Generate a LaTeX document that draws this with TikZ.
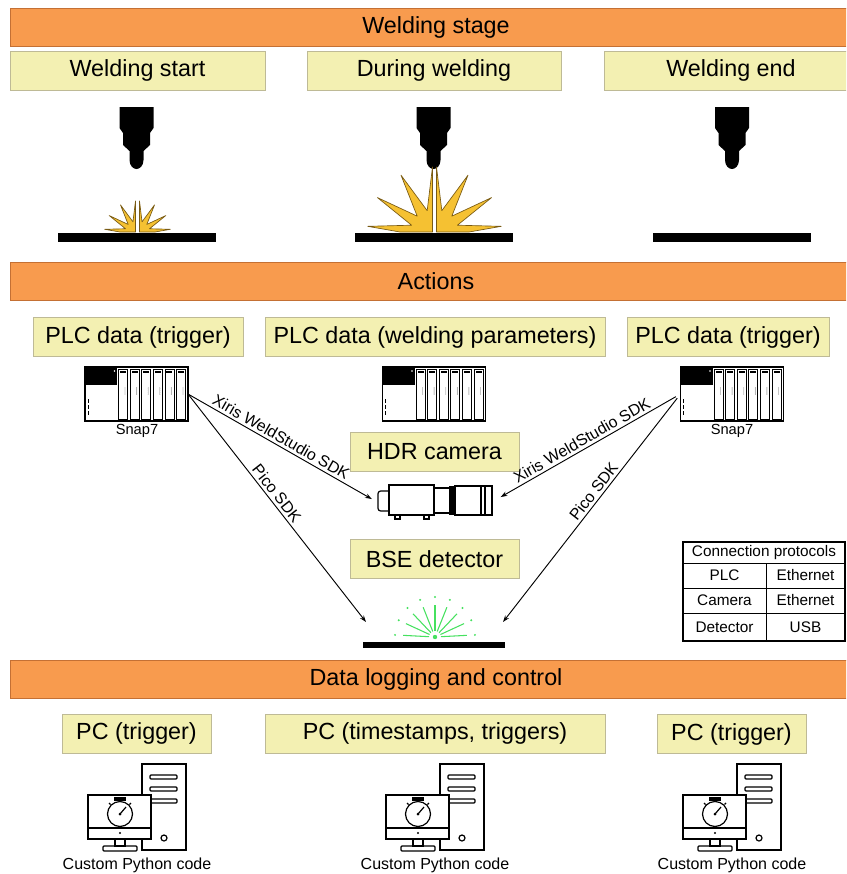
\documentclass[tikz,border=0pt]{standalone}
\usepackage{fontspec}
\setmainfont{Liberation Sans}
\usetikzlibrary{arrows.meta,positioning}

\definecolor{barorange}{RGB}{248,155,78}
\definecolor{baredge}{RGB}{196,112,52}
\definecolor{boxyellow}{RGB}{243,240,178}
\definecolor{boxedge}{RGB}{190,186,150}
\definecolor{sparkfill}{RGB}{245,193,50}
\definecolor{sparkedge}{RGB}{120,90,20}
\definecolor{bsegreen}{RGB}{70,225,95}

\tikzset{
  wid/.style={minimum width=#1*0.75pt},
  bar/.style={fill=barorange, draw=baredge, line width=0.6pt, wid=852,
    minimum height=28.5pt, inner sep=0pt, outer sep=0pt,
    font=\fontsize{17.5}{20}\selectfont},
  title/.style={fill=boxyellow, draw=boxedge, line width=0.6pt,
    minimum height=29.25pt, inner sep=0pt, outer sep=0pt,
    font=\fontsize{17.5}{20}\selectfont},
  small/.style={font=\fontsize{12}{14}\selectfont, inner sep=0pt},
  sdklabel/.style={font=\fontsize{12}{14}\selectfont, sloped, above, inner sep=2pt},
  icon/.style={line width=0.9pt},
  spark/.style={fill=sparkfill, draw=sparkedge, line width=0.5pt, line join=round},
  hole/.style={inner sep=0pt, outer sep=0pt},
}

% torch nozzle, #1 = centre x
\newcommand\torch[1]{%
  \fill[shift={(#1,0)}] (-17,107) -- (17,107) -- (17,128) -- (13.5,133) -- (13.5,145)
    -- (7,151) -- (7,160) .. controls (7,166) and (3,169) .. (0,169)
    .. controls (-3,169) and (-7,166) .. (-7,160) -- (-7,151) -- (-13.5,145)
    -- (-13.5,133) -- (-17,128) -- cycle;}

% spatter fan: centre x, base y, spike length, notch depth
\newcommand\spatter[4]{%
  \foreach \s in {1,-1}
    \filldraw[spark, shift={(#1,#2)}, xscale=\s, yscale=-1, shift={(2,0)}]
      (0,0) -- (90:#3) -- (76:#4) -- (61:#3) -- (46:#4) -- (32:#3) -- (18:#4)
      -- (5:#3) -- ({0.5*#3},0) -- cycle;}

% PLC rack, #1 = centre x
\newcommand\plc[1]{%
  \begin{scope}[shift={(#1,0)}]
    \draw[icon] (-51.5,367) rectangle (51.5,421);
    \fill (-51.5,367) rectangle (-19.5,385);
    \fill[white] (-22,371) circle (0.9);
    \foreach \i in {0,...,5} {
      \draw[line width=0.6pt] (-18+\i*11.6,369) rectangle +(9,50);
      \fill (-16.5+\i*11.6,370.5) rectangle +(6,2);
      \foreach \j in {0,...,3}
        \fill (-11.5+\i*11.6,388+2*\j) circle (0.45);
    }
    \foreach \j in {0,1,2}
      \fill (-49,399+\j*6) rectangle +(1.2,4);
  \end{scope}}

% PC with monitor and stopwatch, #1 = centre x
\newcommand\pc[1]{%
  \begin{scope}[shift={(#1,0)}, icon]
    \draw[fill=white] (5,764) rectangle (49,850);
    \foreach \y in {775,787,799}
      \draw[rounded corners=0.8pt] (13,\y) rectangle (40,\y+4);
    \draw (27,838) circle (3);
    \draw[fill=white] (-49,795) rectangle (14,839);
    \draw (-49,828) -- (14,828);
    \fill (-17,833) circle (1.2);
    \draw (-22,839) rectangle (-12,846);
    \draw[rounded corners=0.8pt] (-34,846) rectangle (0,851);
    % stopwatch
    \draw (-17,814) circle (12.5);
    \fill (-23,797) rectangle (-11,800.5);
    \draw (-17,800.5) -- (-17,801.5);
    \draw (-26.5,804.5) -- (-28,803) (-7.5,804.5) -- (-6,803);
    \draw (-17,814) -- (-11,807);
    \fill (-17,814) circle (1.5);
  \end{scope}}

\begin{document}
\begin{tikzpicture}[x=0.75pt,y=-0.75pt,>={Stealth[length=5pt,width=3.5pt]}]
\clip (0,0) rectangle (846,874);

% stage bars
\node[bar] (stage) at (436,27) {Welding stage};
\node[bar] (actions) at (436,281) {Actions};
\node[bar] (logging) at (436,679) {Data logging and control};

% welding stage
\node[title, wid=255] (wstart) at (137.5,70.5) {Welding start};
\node[title, wid=254] (wduring) at (434,70.5) {During welding};
\node[title, wid=254] (wend) at (731,70.5) {Welding end};

\torch{136.5}
\torch{433.5}
\torch{732}
\fill (58,233) rectangle (216,242);
\fill (355,233) rectangle (513,242);
\fill (653,233) rectangle (811,242);
\spatter{137.5}{232}{31}{10.5}
\spatter{434.5}{232}{65}{22}

% actions
\node[title, wid=210] (plcTrigL) at (138,337) {PLC data (trigger)};
\node[title, wid=340] (plcParam) at (435,337) {PLC data (welding parameters)};
\node[title, wid=202] (plcTrigR) at (728,337) {PLC data (trigger)};

\plc{136.5}
\plc{434}
\plc{732}
\node[hole, wid=103, minimum height=40.5pt] (plcL) at (136.5,394) {};
\node[hole, wid=103, minimum height=40.5pt] (plcR) at (732,394) {};
\node[small, font=\fontsize{11}{13}\selectfont] (snapL) at (137,431) {Snap7};
\node[small, font=\fontsize{11}{13}\selectfont] (snapR) at (732,431) {Snap7};

\node[title, wid=169] (hdr) at (434.5,451.5) {HDR camera};
\node[title, wid=169] (bsetitle) at (434.5,559) {BSE detector};

% camera
\begin{scope}[icon]
  \draw[rounded corners=2pt] (389,491) -- (378,491) -- (378,511) -- (389,511);
  \draw (389,485) rectangle (434,515);
  \draw (395,515) rectangle (400,519) (424,515) rectangle (429,519);
  \draw (434,488) rectangle (450,513);
  \draw (450,487) rectangle (455,514);
  \foreach \x in {451,452,453,454}
    \draw[line width=0.3pt] (\x,487) -- (\x,514);
  \draw (455,486) rectangle (492,515);
  \draw (481,486) -- (481,515) (485,486) -- (485,515);
\end{scope}
\node[hole, wid=115, minimum height=25.5pt] (cam) at (434.5,502) {};

% detector plate with backscatter
\fill (363,642) rectangle (505,648);
\foreach \a in {0,...,8} {
  \draw[bsegreen, line width=0.8pt]
    ({435-6*cos(3+\a*21.75)},{637-6*sin(3+\a*21.75)})
    -- ({435-32*cos(3+\a*21.75)},{637-32*sin(3+\a*21.75)});
  \fill[bsegreen] ({435-40*cos(3+\a*21.75)},{637-40*sin(3+\a*21.75)}) circle (1.1);
}
\fill[bsegreen] (435,637) circle (2.2);
\coordinate (bseL) at (366,622);
\coordinate (bseR) at (503,622);

% SDK links
\draw[->, line width=0.7pt, shorten >=4.5pt] (plcL.east)
  -- node[sdklabel, pos=0.47] (xirisL) {Xiris WeldStudio SDK} (cam.west);
\draw[->, line width=0.7pt] (plcL.east)
  -- node[sdklabel, pos=0.46] (picoL) {Pico SDK} (bseL);
\draw[<-, line width=0.7pt, shorten <=7.5pt, shorten >=4pt] (cam.east)
  -- node[sdklabel, pos=0.5] (xirisR) {Xiris WeldStudio SDK} (plcR.west);
\draw[<-, line width=0.7pt, shorten >=4pt] (bseR)
  -- node[sdklabel, pos=0.55] (picoR) {Pico SDK} (plcR.west);

% protocol table
\draw[line width=0.8pt] (683,542) rectangle (845,641);
\draw[line width=0.6pt] (683,563) -- (845,563) (683,588) -- (845,588)
  (683,613) -- (845,613) (766,563) -- (766,641);
\begin{scope}[every node/.style={font=\fontsize{11.5}{13}\selectfont, inner sep=0pt}]
  \node (protHead) at (764,553) {Connection protocols};
  \node (protPlc) at (724.5,575.5) {PLC};
  \node (protPlcE) at (805.5,575.5) {Ethernet};
  \node (protCam) at (724.5,600.5) {Camera};
  \node (protCamE) at (805.5,600.5) {Ethernet};
  \node (protDet) at (724.5,627) {Detector};
  \node (protDetU) at (805.5,627) {USB};
\end{scope}

% data logging
\node[title, wid=149] (pcTrigL) at (136.5,733.5) {PC (trigger)};
\node[title, wid=340] (pcStamps) at (435,733.5) {PC (timestamps, triggers)};
\node[title, wid=149] (pcTrigR) at (731.5,734) {PC (trigger)};

\pc{137}
\pc{435}
\pc{732}
\node[small] (codeL) at (137,865) {Custom Python code};
\node[small] (codeM) at (435,865) {Custom Python code};
\node[small] (codeR) at (732,865) {Custom Python code};
\end{tikzpicture}
\end{document}
